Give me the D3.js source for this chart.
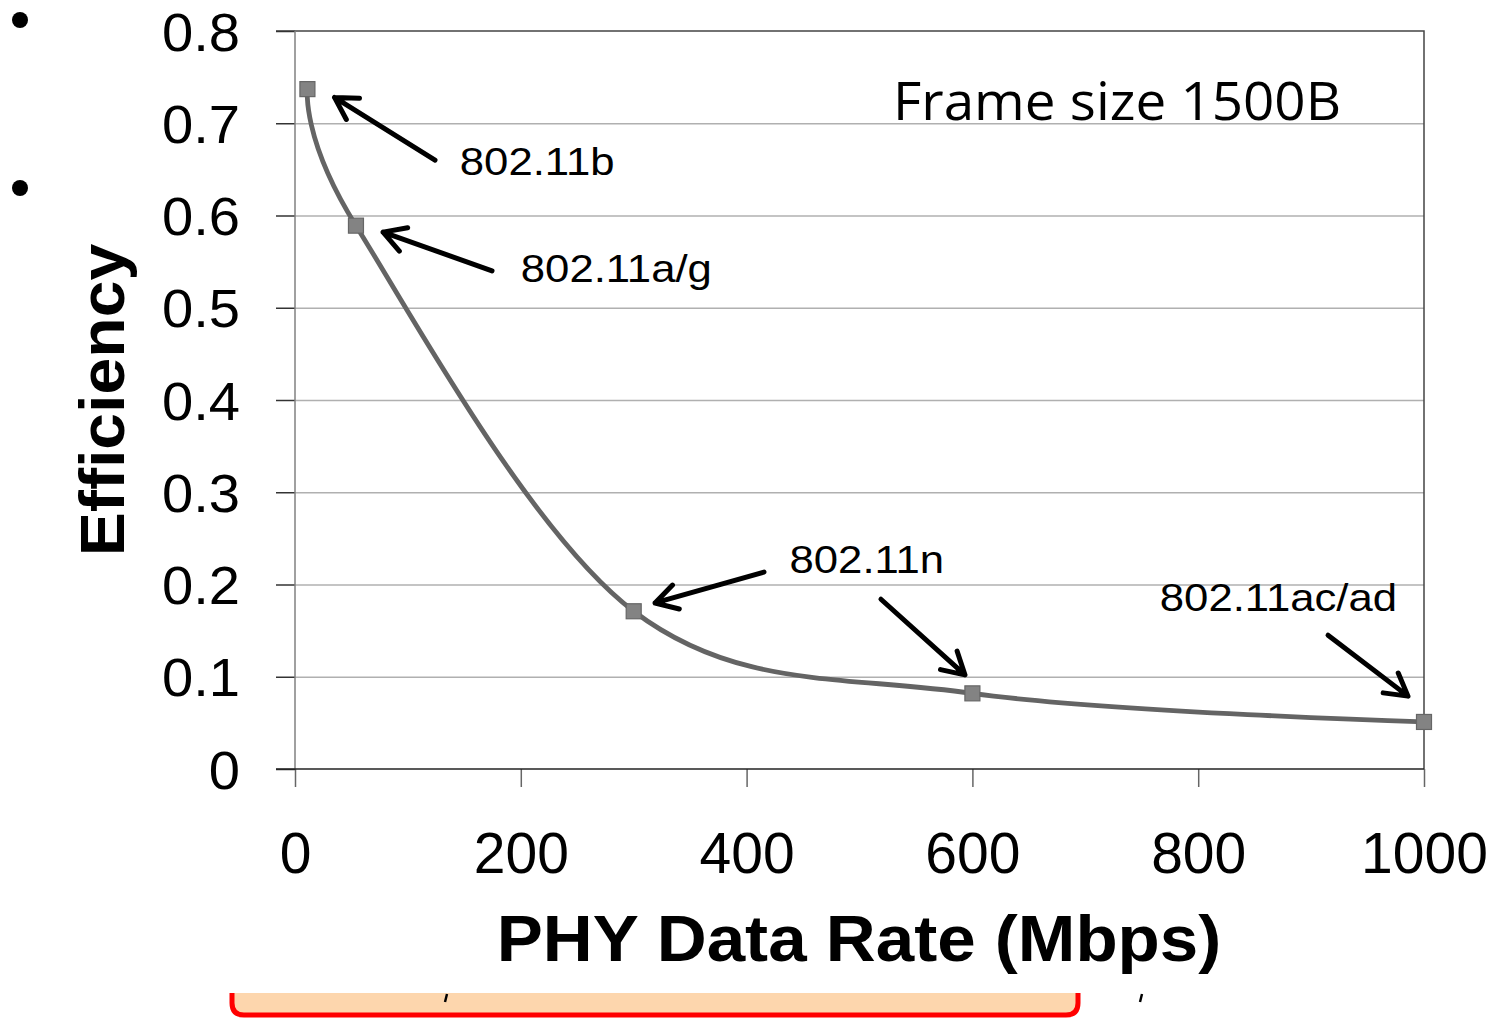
<!DOCTYPE html>
<html>
<head>
<meta charset="utf-8">
<script src="https://cdn.jsdelivr.net/npm/d3@7/dist/d3.min.js"></script>
<style>
  html, body { margin: 0; padding: 0; background: #fff; }
  svg { display: block; }
  text { font-family: "Liberation Sans", Arial, sans-serif; fill: #000; }
</style>
</head>
<body>
<svg id="chart" width="1508" height="1023"></svg>
<script>
// data
var rates      = [11, 54, 300, 600, 1000];
var efficiency = [0.737, 0.589, 0.171, 0.082, 0.051];

var xTicks      = [0, 200, 400, 600, 800, 1000];
var xTickLabels = ['0', '200', '400', '600', '800', '1000'];
var yTicks      = [0, 0.1, 0.2, 0.3, 0.4, 0.5, 0.6, 0.7, 0.8];
var yTickLabels = ['0', '0.1', '0.2', '0.3', '0.4', '0.5', '0.6', '0.7', '0.8'];

// annotations, in data units
var notes      = ['802.11b', '802.11a/g', '802.11n', '802.11ac/ad'];
var noteAt     = [[146, 0.644], [200, 0.528], [438, 0.2125], [766, 0.171]];
var arrowFrom  = [[124, 0.660], [174.5, 0.540], [415.4, 0.2135], [519, 0.184], [915, 0.145]];
var arrowTo    = [[35, 0.728], [78, 0.582], [318.9, 0.180], [593.4, 0.102], [985.8, 0.079]];

var svg = d3.select('#chart');

var x = d3.scaleLinear().domain([0, 1000]).range([295, 1424]);
var y = d3.scaleLinear().domain([0, 0.8]).range([769, 31]);

// stretch text horizontally like the original slide
function stretch(sel, k) {
    sel.each(function () {
        var w = this.getComputedTextLength();
        d3.select(this).attr('textLength', w * k).attr('lengthAdjust', 'spacingAndGlyphs');
    });
}

// slide remnants behind the chart
svg.append('path')
    .attr('d', 'M232,993 L232,1003 Q232,1015 244,1015 L1066,1015 Q1078,1015 1078,1003 L1078,993')
    .attr('fill', '#fdd6ad')
    .attr('stroke', '#ff0000')
    .attr('stroke-width', 5)
;
svg.append('path').attr('d', 'M447,994 L445,1002').attr('stroke', '#000').attr('stroke-width', 2.5);
svg.append('path').attr('d', 'M1142,994 L1140,1002').attr('stroke', '#000').attr('stroke-width', 2.5);

svg.selectAll('.bullet')
    .data([20, 188])
    .enter().append('circle')
    .attr('class', 'bullet')
    .attr('cx', 20)
    .attr('cy', d => d)
    .attr('r', 8)
    .attr('fill', '#000')
;

// gridlines
svg.append('g')
    .attr('transform', `translate(${ x(0) },0)`)
    .call(d3.axisLeft(y).tickValues(yTicks.slice(1, -1)).tickSize(-(x(1000) - x(0))).tickFormat(''))
    .call(g => g.select('.domain').remove())
    .call(g => g.selectAll('line').attr('stroke', '#b0b0b0').attr('stroke-width', 1.3))
;

// plot border top / right
svg.append('path')
    .attr('d', `M${ x(0) - 19 },${ y(0.8) } H${ x(1000) } V${ y(0) }`)
    .attr('fill', 'none')
    .attr('stroke', '#444')
    .attr('stroke-width', 1.5)
;

// y axis
var yAxis = svg.append('g')
    .attr('transform', `translate(${ x(0) },0)`)
    .call(d3.axisLeft(y).tickValues(yTicks).tickSize(19).tickPadding(55 - 19).tickFormat((d, i) => yTickLabels[i]))
;
yAxis.select('.domain').remove();
yAxis.selectAll('line').attr('stroke', '#333').attr('stroke-width', 1.5);
yAxis.selectAll('text')
    .attr('dy', '0.36em')
    .style('font-size', '53px')
    .style('font-family', '"Liberation Sans", Arial, sans-serif')
    .attr('fill', '#000')
    .call(stretch, 1.06)
;
svg.append('line')
    .attr('x1', x(0)).attr('x2', x(0))
    .attr('y1', y(0.8)).attr('y2', y(0))
    .attr('stroke', '#808080')
    .attr('stroke-width', 1.5)
;

// x axis
var xAxis = svg.append('g')
    .attr('transform', `translate(0,${ y(0) })`)
    .call(d3.axisBottom(x).tickValues(xTicks).tickSize(18).tickFormat((d, i) => xTickLabels[i]))
;
xAxis.select('.domain').remove();
xAxis.selectAll('line').attr('stroke', '#666').attr('stroke-width', 1.5);
xAxis.selectAll('text')
    .attr('y', 104)
    .attr('dy', 0)
    .style('font-size', '57px')
    .style('font-family', '"Liberation Sans", Arial, sans-serif')
    .attr('fill', '#000')
;
svg.append('line')
    .attr('x1', x(0) - 19).attr('x2', x(1000))
    .attr('y1', y(0)).attr('y2', y(0))
    .attr('stroke', '#222')
    .attr('stroke-width', 1.5)
;

// axis titles
svg.append('text')
    .attr('transform', 'translate(124,400) rotate(-90)')
    .attr('text-anchor', 'middle')
    .style('font-size', '63px')
    .style('font-weight', 'bold')
    .text('Efficiency')
    .call(stretch, 1.05)
;
svg.append('text')
    .attr('x', 859)
    .attr('y', 961)
    .attr('text-anchor', 'middle')
    .style('font-size', '64px')
    .style('font-weight', 'bold')
    .text('PHY Data Rate (Mbps)')
    .call(stretch, 1.08)
;

// series
var points = rates.map((r, i) => [r, efficiency[i]]);

svg.append('path')
    .datum(points)
    .attr('fill', 'none')
    .attr('stroke', '#646464')
    .attr('stroke-width', 4.8)
    .attr('d', d3.line().x(d => x(d[0])).y(d => y(d[1])).curve(d3.curveCardinal.tension(0)))
;

svg.selectAll('.marker')
    .data(points)
    .enter().append('rect')
    .attr('class', 'marker')
    .attr('x', d => x(d[0]) - 7.5)
    .attr('y', d => y(d[1]) - 7.5)
    .attr('width', 15)
    .attr('height', 15)
    .attr('fill', '#838383')
    .attr('stroke', '#666')
    .attr('stroke-width', 1.2)
;

// frame size note
svg.append('text')
    .attr('x', x(529.7))
    .attr('y', y(0.7035))
    .style('font-family', '"Open Sans", "Noto Sans", sans-serif')
    .style('font-size', '53px')
    .attr('textLength', 448)
    .attr('lengthAdjust', 'spacingAndGlyphs')
    .text('Frame size 1500B')
;

// labels and arrows
svg.selectAll('.note')
    .data(notes)
    .enter().append('text')
    .attr('class', 'note')
    .attr('x', (d, i) => x(noteAt[i][0]))
    .attr('y', (d, i) => y(noteAt[i][1]))
    .style('font-size', '39px')
    .text(d => d)
    .call(stretch, 1.12)
;

svg.selectAll('.arrow')
    .data(arrowFrom)
    .enter().append('path')
    .attr('class', 'arrow')
    .attr('fill', 'none')
    .attr('stroke', '#000')
    .attr('stroke-width', 5)
    .attr('stroke-linecap', 'round')
    .attr('stroke-linejoin', 'round')
    .attr('d', function (d, i) {
        var x0 = x(d[0]), y0 = y(d[1]);
        var x1 = x(arrowTo[i][0]), y1 = y(arrowTo[i][1]);
        var a = Math.atan2(y0 - y1, x0 - x1);
        var len = 25, spread = 0.52;
        var ax = x1 + len * Math.cos(a + spread), ay = y1 + len * Math.sin(a + spread);
        var bx = x1 + len * Math.cos(a - spread), by = y1 + len * Math.sin(a - spread);
        return `M${ x0 },${ y0 } L${ x1 },${ y1 } M${ ax },${ ay } L${ x1 },${ y1 } L${ bx },${ by }`;
    })
;
</script>
</body>
</html>
